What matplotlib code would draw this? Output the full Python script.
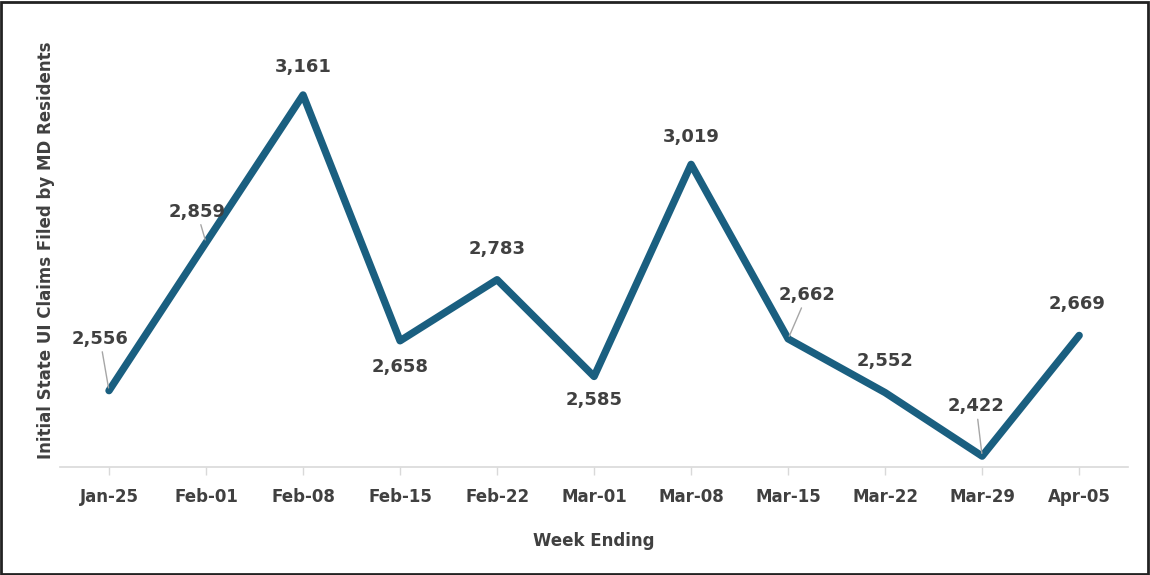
import matplotlib.pyplot as plt
from matplotlib.patches import Rectangle

weeks = ["Jan-25", "Feb-01", "Feb-08", "Feb-15", "Feb-22", "Mar-01",
         "Mar-08", "Mar-15", "Mar-22", "Mar-29", "Apr-05"]
claims = [2556, 2859, 3161, 2658, 2783, 2585, 3019, 2662, 2552, 2422, 2669]

# label offsets in pixels from each point, and whether a leader line is drawn
offsets = [(-9, 52), (-9, 31), (0, 28), (0, -26), (0, 31), (0, -24),
           (0, 27), (19, 44), (0, 32), (-6, 50), (-2, 31)]
leaders = [True, True, False, False, False, False,
           False, True, False, True, False]

line_color = "#1A5F80"
text_color = "#404040"

plt.rcParams["font.family"] = "DejaVu Sans"

fig = plt.figure(figsize=(11.5, 5.75), dpi=100)
ax = fig.add_axes([0.0526, 0.188, 0.928, 0.680])

x = list(range(len(weeks)))
ax.plot(x, claims, color=line_color, linewidth=5.3,
        solid_capstyle="round", solid_joinstyle="round")

for i, v in enumerate(claims):
    dx, dy = offsets[i]
    props = None
    if leaders[i]:
        props = dict(arrowstyle="-", color="#A6A6A6", lw=1,
                     shrinkA=1, shrinkB=2)
    ax.annotate(f"{v:,}", (i, v), xytext=(dx, dy), textcoords="offset pixels",
                ha="center", va="center", fontsize=13, fontweight="bold",
                color=text_color, arrowprops=props)

ax.set_xlim(-0.5, len(weeks) - 0.5)
ax.set_ylim(2400, 3200)
ax.set_xticks(x)
ax.set_xticklabels(weeks, fontsize=12, fontweight="bold", color=text_color)
ax.set_yticks([])
ax.tick_params(axis="x", length=6, width=1, color="#D9D9D9", pad=9)

for s in ["top", "right", "left"]:
    ax.spines[s].set_visible(False)
ax.spines["bottom"].set_color("#D9D9D9")
ax.spines["bottom"].set_linewidth(1.2)

ax.set_xlabel("Week Ending", fontsize=12, fontweight="bold",
              color=text_color, labelpad=19)
ax.set_ylabel("Initial State UI Claims Filed by MD Residents", fontsize=12,
              fontweight="bold", color=text_color)
ax.yaxis.set_label_coords(-0.005, 0.555)

fig.patches.append(Rectangle((0.001, 0.002), 0.997, 0.995, transform=fig.transFigure,
                             fill=False, edgecolor="#222222", linewidth=2))

fig.savefig("out.png", dpi=100)
